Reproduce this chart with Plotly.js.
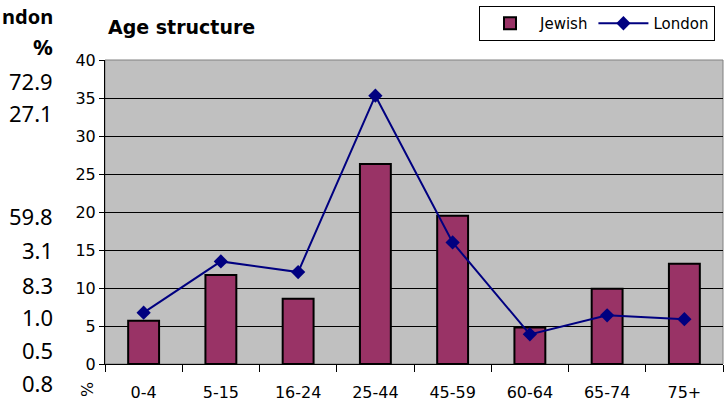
<!DOCTYPE html>
<html><head><meta charset="utf-8">
<script src="https://cdn.plot.ly/plotly-3.0.1.min.js"></script>
<style>body{margin:0;background:#fff}#c{width:726px;height:402px}</style>
</head><body><div id="c"></div>
<script>
const categories = ['0-4','5-15','16-24','25-44','45-59','60-64','65-74','75+'];
const jewish = [5.7, 11.7, 8.6, 26.3, 19.5, 4.8, 9.9, 13.2];
const london = [6.75, 13.5, 12.1, 35.3, 16.0, 3.9, 6.4, 5.9];
const sideLabels = ['ndon','%','72.9','27.1','59.8','3.1','8.3','1.0','0.5','0.8'];
const sideY = [17, 46, 81, 113, 216, 250, 285, 317, 350, 383];
const FONT = 'DejaVu Sans, sans-serif';
const SIDEFONT = 'Noto Sans, sans-serif';

const W = 726, H = 402, L = 105, R = 3, T = 60, B = 38;
const pw = W - L - R, ph = H - T - B;

const annotations = sideLabels.map((t, i) => ({
  text: i < 2 ? '<b>' + t + '</b>' : t, xref: 'paper', yref: 'paper',
  x: (55 - L) / pw, y: (H - B - sideY[i]) / ph,
  xanchor: 'right', yanchor: 'middle', showarrow: false,
  font: {family: SIDEFONT, size: i === 0 ? 20 : 22, color: '#000'}
}));
annotations.push({
  text: '%', textangle: -90, xref: 'paper', yref: 'paper',
  x: (87 - L) / pw, y: (H - B - 390) / ph, xanchor: 'center', yanchor: 'middle',
  showarrow: false, font: {family: FONT, size: 16, color: '#000'}
});

const data = [
  {type: 'bar', name: 'Jewish', x: categories, y: jewish,
   marker: {color: '#993366', line: {color: '#000', width: 2}}},
  {type: 'scatter', mode: 'lines+markers', name: 'London', x: categories, y: london,
   line: {color: '#000080', width: 2}, marker: {symbol: 'diamond', size: 11, color: '#000080'}}
];

const layout = {
  width: W, height: H,
  margin: {l: L, r: R, t: T, b: B},
  paper_bgcolor: '#fff', plot_bgcolor: '#C0C0C0',
  font: {family: FONT, color: '#000', size: 16},
  title: {text: '<b>Age structure</b>', x: 108 / W, xanchor: 'left', y: 1 - 27 / H, yanchor: 'middle',
          font: {family: FONT, size: 19, color: '#000'}},
  bargap: 0.6,
  showlegend: true,
  legend: {orientation: 'h', x: 1 - 8 / pw, xanchor: 'right', y: 1 + 54 / ph, yanchor: 'top',
           bordercolor: '#000', borderwidth: 1, bgcolor: '#fff', font: {family: FONT, size: 15},
           itemwidth: 50, traceorder: 'normal', tracegroupgap: 0},
  xaxis: {type: 'category', showgrid: false, ticks: 'outside', tickson: 'boundaries', ticklen: 7,
          tickcolor: '#000', showline: true, linecolor: '#000', linewidth: 1, mirror: false,
          ticklabelstandoff: 14, tickfont: {family: FONT, size: 16}},
  yaxis: {range: [0, 40], dtick: 5, showgrid: true, gridcolor: '#000', gridwidth: 1,
          ticks: 'outside', ticklen: 5, tickcolor: '#000', showline: true, linecolor: '#000',
          zeroline: false, tickfont: {family: FONT, size: 16}},
  shapes: [{type: 'rect', xref: 'paper', yref: 'paper', x0: 0, x1: 1, y0: 0, y1: 1,
            line: {color: '#808080', width: 1}, fillcolor: 'rgba(0,0,0,0)', layer: 'below'}],
  annotations: annotations
};
Plotly.newPlot('c', data, layout, {displayModeBar: false});
</script></body></html>
